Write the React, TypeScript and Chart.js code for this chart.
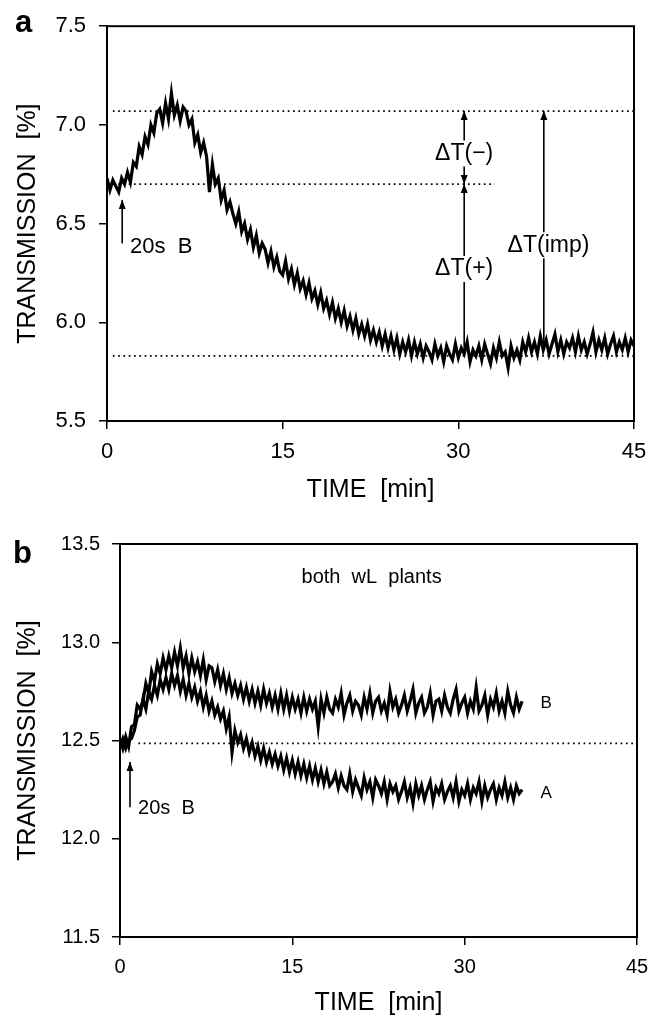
import React, { useEffect, useRef } from "react";
import { Chart, registerables } from "chart.js";
Chart.register(...registerables);

const FONT = "'Liberation Sans', Arial, Helvetica, sans-serif";

// sampling interval of the recorded traces (minutes)
const STEP_MIN = 0.25;

// Panel a: transmission trace, t = 0 .. 45 min
const transA = [
  6.73, 6.67, 6.72, 6.69, 6.66, 6.73, 6.70, 6.76,
  6.71, 6.81, 6.79, 6.89, 6.85, 6.94, 6.90, 7.00,
  6.96, 7.06, 7.08, 7.01, 7.11, 7.03, 7.16, 7.05,
  7.10, 7.02, 7.09, 7.07, 7.00, 7.03, 6.91, 6.95,
  6.86, 6.91, 6.84, 6.66, 6.80, 6.70, 6.73, 6.62,
  6.67, 6.57, 6.61, 6.55, 6.50, 6.56, 6.46, 6.50,
  6.42, 6.47, 6.38, 6.44, 6.35, 6.40, 6.37, 6.30,
  6.36, 6.28, 6.33, 6.26, 6.24, 6.31, 6.22, 6.27,
  6.19, 6.25, 6.17, 6.21, 6.14, 6.20, 6.12, 6.16,
  6.09, 6.15, 6.07, 6.11, 6.04, 6.10, 6.02, 6.07,
  6.00, 6.06, 5.98, 6.03, 5.96, 6.02, 5.94, 5.99,
  5.93, 5.99, 5.91, 5.96, 5.90, 5.95, 5.88, 5.94,
  5.87, 5.93, 5.86, 5.92, 5.84, 5.90, 5.85, 5.91,
  5.83, 5.90, 5.84, 5.89, 5.82, 5.88, 5.85, 5.81,
  5.89, 5.83, 5.87, 5.80, 5.88, 5.84, 5.81, 5.89,
  5.82, 5.87, 5.84, 5.90, 5.80, 5.86, 5.83, 5.88,
  5.81, 5.89, 5.84, 5.79, 5.87, 5.82, 5.90, 5.83,
  5.85, 5.77, 5.88, 5.82, 5.86, 5.81, 5.90, 5.85,
  5.92, 5.85, 5.90, 5.84, 5.93, 5.86, 5.91, 5.84,
  5.89, 5.94, 5.85, 5.91, 5.84, 5.90, 5.87, 5.92,
  5.85, 5.93, 5.86, 5.90, 5.84, 5.89, 5.95, 5.85,
  5.91, 5.86, 5.92, 5.84, 5.89, 5.93, 5.85, 5.90,
  5.86, 5.92, 5.85, 5.91, 5.88,
];

// Panel b: plant B (upper) and plant A (lower), t = 0 .. 35 min
const transPlantB = [
  12.51, 12.46, 12.52, 12.47, 12.57, 12.58, 12.68, 12.66,
  12.70, 12.79, 12.74, 12.85, 12.80, 12.89, 12.84, 12.92,
  12.86, 12.93, 12.87, 12.95, 12.88, 12.97, 12.87, 12.93,
  12.84, 12.92, 12.85, 12.90, 12.83, 12.91, 12.81, 12.88,
  12.87, 12.80, 12.86, 12.78, 12.84, 12.76, 12.82, 12.74,
  12.79, 12.73, 12.78, 12.71, 12.77, 12.70, 12.76, 12.69,
  12.75, 12.68, 12.76, 12.69, 12.74, 12.67, 12.73, 12.66,
  12.74, 12.66, 12.73, 12.65, 12.72, 12.66, 12.71, 12.64,
  12.72, 12.65, 12.71, 12.66, 12.70, 12.57, 12.71, 12.64,
  12.72, 12.66, 12.64, 12.71, 12.67, 12.74, 12.63, 12.69,
  12.73, 12.65, 12.70, 12.68, 12.63, 12.72, 12.66, 12.74,
  12.64, 12.70, 12.72, 12.65, 12.69, 12.63, 12.75, 12.67,
  12.71, 12.64, 12.68, 12.73, 12.65, 12.70, 12.76, 12.64,
  12.69, 12.72, 12.64, 12.67, 12.74, 12.63, 12.70, 12.71,
  12.65, 12.73, 12.67, 12.64, 12.71, 12.76, 12.65, 12.69,
  12.72, 12.64, 12.70, 12.66, 12.77, 12.65, 12.68, 12.73,
  12.63, 12.71, 12.67, 12.74, 12.65, 12.70, 12.64, 12.75,
  12.68, 12.64, 12.72, 12.66, 12.70,
];

const transPlantA = [
  12.47, 12.51, 12.46, 12.50, 12.51, 12.55, 12.62, 12.63,
  12.71, 12.66, 12.75, 12.71, 12.78, 12.73, 12.81, 12.76,
  12.82, 12.76, 12.84, 12.78, 12.83, 12.75, 12.81, 12.73,
  12.79, 12.72, 12.77, 12.70, 12.75, 12.67, 12.73, 12.65,
  12.70, 12.63, 12.67, 12.61, 12.65, 12.56, 12.62, 12.44,
  12.55, 12.49, 12.53, 12.46, 12.51, 12.44, 12.49, 12.42,
  12.47, 12.40, 12.46, 12.39, 12.44, 12.38, 12.43, 12.37,
  12.42, 12.35, 12.41, 12.34, 12.40, 12.33, 12.39, 12.32,
  12.38, 12.31, 12.37, 12.30, 12.36, 12.29, 12.35, 12.28,
  12.34, 12.27, 12.29, 12.33, 12.26, 12.32, 12.27, 12.25,
  12.33, 12.24, 12.30, 12.26, 12.22, 12.31, 12.25, 12.29,
  12.21, 12.30, 12.27, 12.23, 12.29, 12.20, 12.28, 12.24,
  12.27, 12.20, 12.24, 12.29, 12.21, 12.26, 12.18, 12.28,
  12.22, 12.27, 12.20, 12.25, 12.29, 12.19, 12.26, 12.23,
  12.28, 12.20, 12.24, 12.27, 12.21, 12.29, 12.19, 12.25,
  12.22, 12.28, 12.20, 12.26, 12.23, 12.29, 12.19, 12.27,
  12.21, 12.25, 12.28, 12.20, 12.26, 12.22, 12.29, 12.21,
  12.26, 12.20, 12.27, 12.23, 12.25,
];

// axes
const xTicks = [0, 15, 30, 45];
const yTicksA = [5.5, 6.0, 6.5, 7.0, 7.5];
const yTicksB = [11.5, 12.0, 12.5, 13.0, 13.5];

// dotted reference levels (value, start min, end min)
const refLevelsA = [7.07, 6.70, 5.83];
const refStartsA = [0.5, 0.5, 0.5];
const refEndsA = [45, 33.1, 45];
const refLevelsB = [12.485];
const refStartsB = [1.6];
const refEndsB = [45];

type Arrow = { x: number; from: number; to: number; headTop: boolean; headBottom: boolean; gapAt?: number };
type Label = { text: string; x: number; y: number; size: number; align: CanvasTextAlign };

const arrowsA: Arrow[] = [
  { x: 30.5, from: 6.70, to: 7.07, headTop: true, headBottom: true, gapAt: 6.855 },
  { x: 30.5, from: 5.86, to: 6.70, headTop: true, headBottom: false, gapAt: 6.27 },
  { x: 37.3, from: 5.88, to: 7.07, headTop: true, headBottom: false, gapAt: 6.39 },
  { x: 1.3, from: 6.40, to: 6.62, headTop: true, headBottom: false },
];
const labelsA: Label[] = [
  { text: "\u0394T(\u2212)", x: 30.5, y: 6.855, size: 23, align: "center" },
  { text: "\u0394T(+)", x: 30.5, y: 6.27, size: 23, align: "center" },
  { text: "\u0394T(imp)", x: 37.7, y: 6.39, size: 23, align: "center" },
  { text: "20s  B", x: 1.96, y: 6.38, size: 22, align: "left" },
];
const arrowsB: Arrow[] = [
  { x: 0.87, from: 12.16, to: 12.39, headTop: true, headBottom: false },
];
const labelsB: Label[] = [
  { text: "20s  B", x: 1.57, y: 12.155, size: 20, align: "left" },
  { text: "B", x: 36.6, y: 12.69, size: 17, align: "left" },
  { text: "A", x: 36.6, y: 12.23, size: 17, align: "left" },
  { text: "both  wL  plants", x: 21.9, y: 13.33, size: 20, align: "center" },
];

function makeAnnotPlugin(id: string, arrows: Arrow[], labels: Label[], letter: string, letterX: number, letterY: number) {
  return {
    id,
    afterDatasetsDraw(chart: any) {
      const { ctx, chartArea } = chart;
      const xs = chart.scales.x;
      const ys = chart.scales.y;
      ctx.save();
      ctx.strokeStyle = "#000";
      ctx.fillStyle = "#000";
      ctx.lineWidth = 1.6;
      ctx.setLineDash([]);
      for (const a of arrows) {
        const px = xs.getPixelForValue(a.x);
        const yTop = ys.getPixelForValue(a.to);
        const yBot = ys.getPixelForValue(a.from);
        const segs: [number, number][] = [];
        if (a.gapAt !== undefined) {
          const g = ys.getPixelForValue(a.gapAt);
          segs.push([yTop, g - 13], [g + 13, yBot]);
        } else {
          segs.push([yTop, yBot]);
        }
        for (const [s0, s1] of segs) {
          ctx.beginPath();
          ctx.moveTo(px, s0);
          ctx.lineTo(px, s1);
          ctx.stroke();
        }
        if (a.headTop) {
          ctx.beginPath();
          ctx.moveTo(px, yTop);
          ctx.lineTo(px - 3.5, yTop + 9);
          ctx.lineTo(px + 3.5, yTop + 9);
          ctx.closePath();
          ctx.fill();
        }
        if (a.headBottom) {
          ctx.beginPath();
          ctx.moveTo(px, yBot);
          ctx.lineTo(px - 3.5, yBot - 9);
          ctx.lineTo(px + 3.5, yBot - 9);
          ctx.closePath();
          ctx.fill();
        }
      }
      ctx.textBaseline = "middle";
      for (const l of labels) {
        ctx.font = `${l.size}px ${FONT}`;
        ctx.textAlign = l.align;
        ctx.fillText(l.text, xs.getPixelForValue(l.x), ys.getPixelForValue(l.y));
      }
      // frame
      ctx.lineWidth = 2;
      ctx.strokeRect(chartArea.left, chartArea.top, chartArea.right - chartArea.left, chartArea.bottom - chartArea.top);
      // panel letter
      ctx.font = `bold 31px ${FONT}`;
      ctx.textAlign = "left";
      ctx.textBaseline = "alphabetic";
      ctx.fillText(letter, letterX, letterY);
      ctx.restore();
    },
  };
}

function traceDataset(values: number[]) {
  return {
    data: values.map((v, i) => ({ x: i * STEP_MIN, y: v })),
    borderColor: "#000",
    borderWidth: 3.2,
    borderJoinStyle: "miter" as const,
    pointRadius: 0,
    tension: 0,
    fill: false,
  };
}

function refDatasets(levels: number[], starts: number[], ends: number[]) {
  return levels.map((lv, i) => ({
    data: [
      { x: starts[i], y: lv },
      { x: ends[i], y: lv },
    ],
    borderColor: "#000",
    borderWidth: 1.7,
    borderDash: [1.7, 3.6],
    pointRadius: 0,
    fill: false,
  }));
}

function makeConfig(opts: {
  traces: number[][];
  refs: any[];
  yTicks: number[];
  tickSize: number;
  yWidth: number;
  xHeight: number;
  padTop: number;
  padRight: number;
  yTickPad: number;
  xTickPad: number;
  xTitlePadBottom: number;
  plugin: any;
}) {
  return {
    type: "line" as const,
    data: {
      datasets: [...opts.refs, ...opts.traces.map(traceDataset)],
    },
    plugins: [opts.plugin],
    options: {
      responsive: false,
      animation: false,
      devicePixelRatio: 1,
      layout: { padding: { top: opts.padTop, right: opts.padRight, left: 0, bottom: 0 } },
      plugins: { legend: { display: false }, tooltip: { enabled: false } },
      scales: {
        x: {
          type: "linear",
          min: xTicks[0],
          max: xTicks[xTicks.length - 1],
          afterBuildTicks: (s: any) => {
            s.ticks = xTicks.map((v) => ({ value: v }));
          },
          ticks: { font: { family: FONT, size: opts.tickSize }, color: "#000", padding: opts.xTickPad, maxRotation: 0, autoSkip: false },
          grid: { display: true, drawOnChartArea: false, drawTicks: true, tickLength: 8, color: "#000", lineWidth: 1.5 },
          border: { display: true, color: "#000", width: 2 },
          title: {
            display: true,
            text: "TIME  [min]",
            color: "#000",
            font: { family: FONT, size: 25 },
            padding: { top: 0, bottom: opts.xTitlePadBottom },
          },
          afterFit: (s: any) => {
            s.height = opts.xHeight;
          },
        },
        y: {
          type: "linear",
          min: opts.yTicks[0],
          max: opts.yTicks[opts.yTicks.length - 1],
          afterBuildTicks: (s: any) => {
            s.ticks = opts.yTicks.map((v) => ({ value: v }));
          },
          ticks: {
            font: { family: FONT, size: opts.tickSize },
            color: "#000",
            padding: opts.yTickPad,
            callback: (v: any) => Number(v).toFixed(1),
          },
          grid: { display: true, drawOnChartArea: false, drawTicks: true, tickLength: 8, color: "#000", lineWidth: 1.5 },
          border: { display: true, color: "#000", width: 2 },
          title: {
            display: true,
            text: "TRANSMISSION  [%]",
            color: "#000",
            font: { family: FONT, size: 25 },
            padding: { top: 13, bottom: 0 },
          },
          afterFit: (s: any) => {
            s.width = opts.yWidth;
          },
        },
      },
    },
  };
}

export default function App() {
  const refA = useRef<HTMLCanvasElement>(null);
  const refB = useRef<HTMLCanvasElement>(null);

  useEffect(() => {
    const chartA = new Chart(
      refA.current as HTMLCanvasElement,
      makeConfig({
        traces: [transA],
        refs: refDatasets(refLevelsA, refStartsA, refEndsA),
        yTicks: yTicksA,
        tickSize: 22,
        yWidth: 107,
        xHeight: 99,
        padTop: 21,
        padRight: 29,
        yTickPad: 13,
        xTickPad: 10,
        xTitlePadBottom: 15,
        plugin: makeAnnotPlugin("annotA", arrowsA, labelsA, "a", 15, 32),
      }) as any
    );
    const chartB = new Chart(
      refB.current as HTMLCanvasElement,
      makeConfig({
        traces: [transPlantB, transPlantA],
        refs: refDatasets(refLevelsB, refStartsB, refEndsB),
        yTicks: yTicksB,
        tickSize: 20,
        yWidth: 120,
        xHeight: 82,
        padTop: 23,
        padRight: 26,
        yTickPad: 12,
        xTickPad: 10,
        xTitlePadBottom: 1,
        plugin: makeAnnotPlugin("annotB", arrowsB, labelsB, "b", 13, 43),
      }) as any
    );
    return () => {
      chartA.destroy();
      chartB.destroy();
    };
  }, []);

  return (
    <div style={{ position: "absolute", left: 0, top: 0, width: 663, height: 1019, background: "#fff" }}>
      <canvas ref={refA} width={663} height={520} style={{ position: "absolute", left: 0, top: 0, width: 663, height: 520 }} />
      <canvas ref={refB} width={663} height={499} style={{ position: "absolute", left: 0, top: 520, width: 663, height: 499 }} />
    </div>
  );
}
